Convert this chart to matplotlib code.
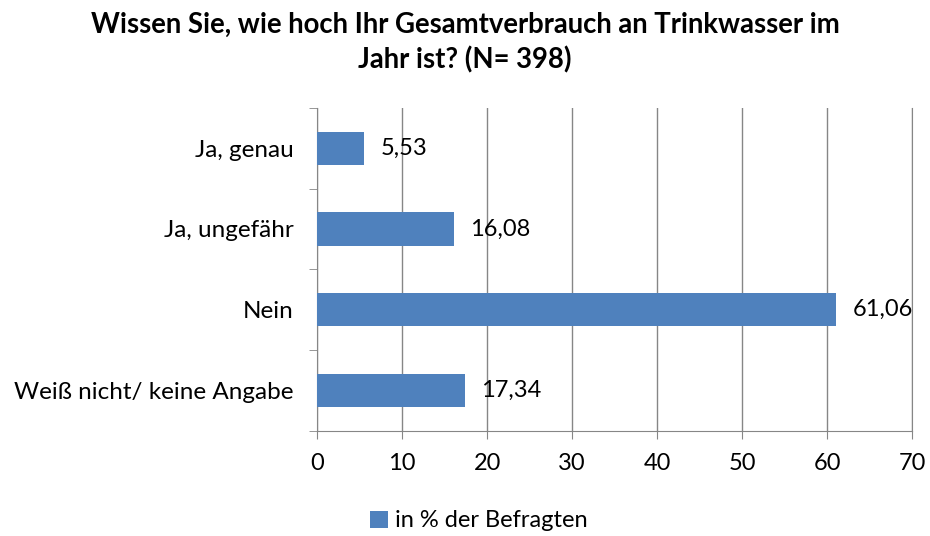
import matplotlib.pyplot as plt
import numpy as np

# Daten
kategorien = ["Ja, genau", "Ja, ungefähr", "Nein", "Weiß nicht/ keine Angabe"]
werte = [5.53, 16.08, 61.06, 17.34]
wert_texte = ["5,53", "16,08", "61,06", "17,34"]
titel = "Wissen Sie, wie hoch Ihr Gesamtverbrauch an Trinkwasser im\nJahr ist? (N= 398)"
legende = "in % der Befragten"

plt.rcParams['font.family'] = ['Lato', 'DejaVu Sans']

blau = '#4F81BD'
grau = '#868686'

fig = plt.figure(figsize=(9.3, 5.36), dpi=100)
ax = fig.add_axes([0.341, 0.196, 0.640, 0.603])

y = np.arange(len(kategorien))
balken = ax.barh(y, werte, height=0.41, color=blau, zorder=3, label=legende)

for yi, w, t in zip(y, werte, wert_texte):
    ax.text(w + 1.9, yi, t, va='center', ha='left', fontsize=17, color='black', zorder=4)

ax.set_xlim(0, 70)
ax.set_ylim(len(kategorien) - 0.5, -0.5)
ax.set_xticks(np.arange(0, 71, 10))
ax.set_yticks(y)
ax.set_yticklabels(kategorien, fontsize=17.5)
ax.tick_params(axis='x', labelsize=17, length=6, color=grau, pad=10)
ax.tick_params(axis='y', which='major', length=0, pad=17)
ax.set_yticks(np.arange(-0.5, len(kategorien)), minor=True)
ax.tick_params(axis='y', which='minor', length=6, color=grau)

ax.grid(axis='x', color=grau, linewidth=1, zorder=0)
ax.spines['top'].set_visible(False)
for s in ['left', 'bottom', 'right']:
    ax.spines[s].set_color(grau)

fig.suptitle(titel, fontsize=19.8, fontweight='bold', y=0.978, linespacing=1.4)

fig.legend(handles=[balken], labels=[legende], loc='center', bbox_to_anchor=(0.515, 0.028),
           frameon=False, fontsize=17, handlelength=0.75, handleheight=0.75, handletextpad=0.3)

fig.savefig('out.png', dpi=100)
